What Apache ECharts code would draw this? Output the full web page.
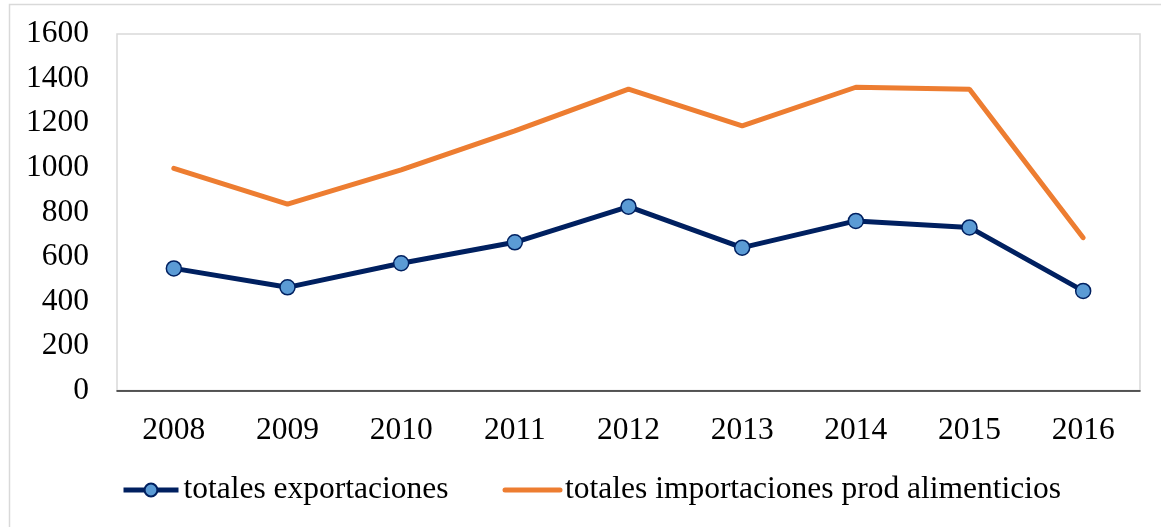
<!DOCTYPE html>
<html>
<head>
<meta charset="utf-8">
<script src="https://cdn.jsdelivr.net/npm/echarts@6/dist/echarts.min.js"></script>
<style>
    html, body {margin: 0; padding: 0; background: #fff;}
    #chart {width: 1161px; height: 527px;}
</style>
</head>
<body>
<div id="chart"></div>
<script>
const years = ['2008', '2009', '2010', '2011', '2012', '2013', '2014', '2015', '2016'];
const exportaciones = [548, 463, 571, 665, 825, 641, 761, 732, 447];
const importaciones = [997, 836, 990, 1165, 1353, 1188, 1361, 1352, 686];
const yTicks = [0, 200, 400, 600, 800, 1000, 1200, 1400, 1600];

const font = '"Liberation Serif", "Times New Roman", serif';
const chart = echarts.init(document.getElementById('chart'), null, {renderer: 'canvas'});

chart.setOption({
    backgroundColor: '#fff',
    animation: false,
    graphic: [
        {
            type: 'rect',
            shape: {x: 9.5, y: 4.5, width: 1200, height: 600},
            style: {fill: 'none', stroke: '#d9d9d9', lineWidth: 1.5},
            z: -1,
        },
    ],
    grid: {
        left: 117,
        right: 21,
        top: 34,
        bottom: 136.5,
        show: true,
        borderColor: '#d9d9d9',
        borderWidth: 1.5,
        containLabel: false,
    },
    legend: {
        left: 116,
        top: 469,
        itemWidth: 55,
        itemHeight: 16,
        itemGap: 54,
        lineStyle: {width: 5},
        textStyle: {fontFamily: font, fontSize: 31.5, color: '#000'},
        data: [
            {name: 'totales exportaciones'},
            {name: 'totales importaciones prod alimenticios', itemStyle: {opacity: 0}},
        ],
    },
    xAxis: {
        type: 'category',
        data: years,
        boundaryGap: true,
        axisTick: {show: false},
        axisLine: {lineStyle: {color: '#262626', width: 1.5}},
        axisLabel: {fontFamily: font, fontSize: 31.5, color: '#000', margin: 24},
        splitLine: {show: false},
    },
    yAxis: {
        type: 'value',
        min: yTicks[0],
        max: yTicks[yTicks.length - 1],
        interval: 200,
        axisLine: {show: false},
        axisTick: {show: false},
        splitLine: {show: false},
        axisLabel: {fontFamily: font, fontSize: 31.5, color: '#000', margin: 28, formatter: v => String(v)},
    },
    series: [
        {
            name: 'totales exportaciones',
            type: 'line',
            data: exportaciones,
            symbol: 'circle',
            symbolSize: 15,
            lineStyle: {color: '#002060', width: 5},
            itemStyle: {color: '#5b9bd5', borderColor: '#002060', borderWidth: 1.5},
            z: 3,
        },
        {
            name: 'totales importaciones prod alimenticios',
            type: 'line',
            data: importaciones,
            symbol: 'none',
            lineStyle: {color: '#ed7d31', width: 5, cap: 'round'},
            itemStyle: {color: '#ed7d31'},
            z: 2,
        },
    ],
});
</script>
</body>
</html>
